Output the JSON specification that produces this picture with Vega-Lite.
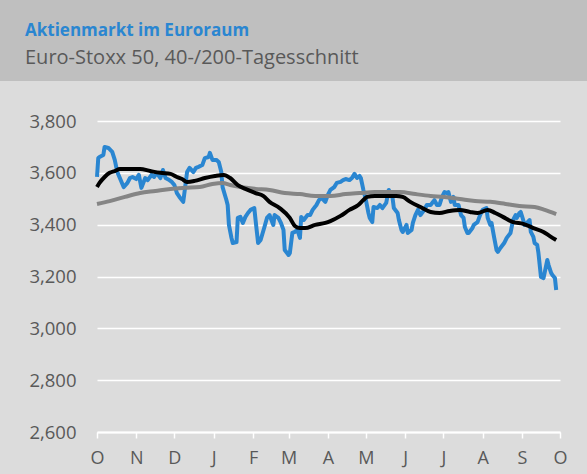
{
  "$schema": "https://vega.github.io/schema/vega-lite/v6.json",
  "background": "#dcdcdc",
  "padding": {"left": 0, "top": 0, "right": 0, "bottom": 7},
  "spacing": 31,
  "align": "none",
  "config": {
    "view": {"stroke": null},
    "font": "Open Sans"
  },
  "datasets": {
    "index": [
      {"date": "2017-10-01", "v": 3584}, {"date": "2017-10-02", "v": 3657}, {"date": "2017-10-03", "v": 3661}, {"date": "2017-10-06", "v": 3669},
      {"date": "2017-10-07", "v": 3700}, {"date": "2017-10-10", "v": 3696}, {"date": "2017-10-13", "v": 3681}, {"date": "2017-10-15", "v": 3650},
      {"date": "2017-10-17", "v": 3603}, {"date": "2017-10-19", "v": 3580}, {"date": "2017-10-22", "v": 3545}, {"date": "2017-10-25", "v": 3561},
      {"date": "2017-10-27", "v": 3580}, {"date": "2017-10-29", "v": 3584}, {"date": "2017-11-01", "v": 3576}, {"date": "2017-11-03", "v": 3592},
      {"date": "2017-11-05", "v": 3542}, {"date": "2017-11-08", "v": 3580}, {"date": "2017-11-10", "v": 3572}, {"date": "2017-11-13", "v": 3592},
      {"date": "2017-11-15", "v": 3584}, {"date": "2017-11-17", "v": 3600}, {"date": "2017-11-20", "v": 3580}, {"date": "2017-11-22", "v": 3611},
      {"date": "2017-11-24", "v": 3580}, {"date": "2017-11-27", "v": 3572}, {"date": "2017-11-29", "v": 3565}, {"date": "2017-12-01", "v": 3553},
      {"date": "2017-12-03", "v": 3522}, {"date": "2017-12-05", "v": 3507}, {"date": "2017-12-08", "v": 3488}, {"date": "2017-12-09", "v": 3526},
      {"date": "2017-12-11", "v": 3603}, {"date": "2017-12-13", "v": 3619}, {"date": "2017-12-16", "v": 3603}, {"date": "2017-12-18", "v": 3619},
      {"date": "2017-12-20", "v": 3623}, {"date": "2017-12-23", "v": 3630}, {"date": "2017-12-25", "v": 3657}, {"date": "2017-12-28", "v": 3661},
      {"date": "2017-12-29", "v": 3677}, {"date": "2017-12-31", "v": 3650}, {"date": "2018-01-03", "v": 3650}, {"date": "2018-01-05", "v": 3642},
      {"date": "2018-01-07", "v": 3603}, {"date": "2018-01-08", "v": 3545}, {"date": "2018-01-11", "v": 3495}, {"date": "2018-01-12", "v": 3476},
      {"date": "2018-01-13", "v": 3399}, {"date": "2018-01-15", "v": 3349}, {"date": "2018-01-16", "v": 3329}, {"date": "2018-01-19", "v": 3333},
      {"date": "2018-01-20", "v": 3426}, {"date": "2018-01-22", "v": 3430}, {"date": "2018-01-24", "v": 3407}, {"date": "2018-01-26", "v": 3430},
      {"date": "2018-01-28", "v": 3445}, {"date": "2018-01-30", "v": 3457}, {"date": "2018-02-02", "v": 3464}, {"date": "2018-02-03", "v": 3418},
      {"date": "2018-02-05", "v": 3329}, {"date": "2018-02-07", "v": 3341}, {"date": "2018-02-10", "v": 3391}, {"date": "2018-02-12", "v": 3426},
      {"date": "2018-02-14", "v": 3437}, {"date": "2018-02-17", "v": 3399}, {"date": "2018-02-18", "v": 3437}, {"date": "2018-02-21", "v": 3426},
      {"date": "2018-02-23", "v": 3407}, {"date": "2018-02-25", "v": 3380}, {"date": "2018-02-26", "v": 3302}, {"date": "2018-03-01", "v": 3283},
      {"date": "2018-03-02", "v": 3290}, {"date": "2018-03-04", "v": 3368}, {"date": "2018-03-06", "v": 3372}, {"date": "2018-03-08", "v": 3380},
      {"date": "2018-03-10", "v": 3349}, {"date": "2018-03-11", "v": 3430}, {"date": "2018-03-13", "v": 3418}, {"date": "2018-03-16", "v": 3437},
      {"date": "2018-03-18", "v": 3437}, {"date": "2018-03-20", "v": 3457}, {"date": "2018-03-23", "v": 3476}, {"date": "2018-03-25", "v": 3495},
      {"date": "2018-03-27", "v": 3503}, {"date": "2018-03-30", "v": 3488}, {"date": "2018-04-01", "v": 3515}, {"date": "2018-04-03", "v": 3534},
      {"date": "2018-04-06", "v": 3545}, {"date": "2018-04-08", "v": 3561}, {"date": "2018-04-11", "v": 3565}, {"date": "2018-04-13", "v": 3572},
      {"date": "2018-04-15", "v": 3576}, {"date": "2018-04-18", "v": 3572}, {"date": "2018-04-20", "v": 3580}, {"date": "2018-04-22", "v": 3596},
      {"date": "2018-04-24", "v": 3580}, {"date": "2018-04-26", "v": 3588}, {"date": "2018-04-27", "v": 3580}, {"date": "2018-04-29", "v": 3534},
      {"date": "2018-05-01", "v": 3495}, {"date": "2018-05-03", "v": 3445}, {"date": "2018-05-04", "v": 3426}, {"date": "2018-05-06", "v": 3410},
      {"date": "2018-05-07", "v": 3468}, {"date": "2018-05-10", "v": 3464}, {"date": "2018-05-12", "v": 3476}, {"date": "2018-05-14", "v": 3464},
      {"date": "2018-05-17", "v": 3484}, {"date": "2018-05-19", "v": 3534}, {"date": "2018-05-22", "v": 3503}, {"date": "2018-05-23", "v": 3464},
      {"date": "2018-05-26", "v": 3445}, {"date": "2018-05-27", "v": 3418}, {"date": "2018-05-29", "v": 3380}, {"date": "2018-05-30", "v": 3372},
      {"date": "2018-06-02", "v": 3399}, {"date": "2018-06-03", "v": 3368}, {"date": "2018-06-06", "v": 3380}, {"date": "2018-06-07", "v": 3407},
      {"date": "2018-06-09", "v": 3437}, {"date": "2018-06-11", "v": 3457}, {"date": "2018-06-13", "v": 3437}, {"date": "2018-06-16", "v": 3457},
      {"date": "2018-06-18", "v": 3476}, {"date": "2018-06-21", "v": 3476}, {"date": "2018-06-23", "v": 3488}, {"date": "2018-06-24", "v": 3495},
      {"date": "2018-06-26", "v": 3476}, {"date": "2018-06-28", "v": 3476}, {"date": "2018-06-30", "v": 3507}, {"date": "2018-07-02", "v": 3526},
      {"date": "2018-07-04", "v": 3522}, {"date": "2018-07-05", "v": 3526}, {"date": "2018-07-07", "v": 3488}, {"date": "2018-07-09", "v": 3507},
      {"date": "2018-07-10", "v": 3476}, {"date": "2018-07-13", "v": 3476}, {"date": "2018-07-15", "v": 3437}, {"date": "2018-07-17", "v": 3426},
      {"date": "2018-07-18", "v": 3391}, {"date": "2018-07-20", "v": 3368}, {"date": "2018-07-21", "v": 3368}, {"date": "2018-07-24", "v": 3387},
      {"date": "2018-07-25", "v": 3399}, {"date": "2018-07-28", "v": 3410}, {"date": "2018-07-30", "v": 3437}, {"date": "2018-08-01", "v": 3457},
      {"date": "2018-08-04", "v": 3464}, {"date": "2018-08-05", "v": 3426}, {"date": "2018-08-07", "v": 3399}, {"date": "2018-08-08", "v": 3407},
      {"date": "2018-08-10", "v": 3353}, {"date": "2018-08-12", "v": 3302}, {"date": "2018-08-13", "v": 3295}, {"date": "2018-08-15", "v": 3310},
      {"date": "2018-08-18", "v": 3329}, {"date": "2018-08-20", "v": 3349}, {"date": "2018-08-23", "v": 3368}, {"date": "2018-08-25", "v": 3418},
      {"date": "2018-08-27", "v": 3437}, {"date": "2018-08-28", "v": 3426}, {"date": "2018-08-30", "v": 3445}, {"date": "2018-08-31", "v": 3449},
      {"date": "2018-09-02", "v": 3418}, {"date": "2018-09-03", "v": 3399}, {"date": "2018-09-05", "v": 3407}, {"date": "2018-09-07", "v": 3418},
      {"date": "2018-09-08", "v": 3372}, {"date": "2018-09-10", "v": 3353}, {"date": "2018-09-11", "v": 3329}, {"date": "2018-09-13", "v": 3322},
      {"date": "2018-09-14", "v": 3291}, {"date": "2018-09-16", "v": 3198}, {"date": "2018-09-18", "v": 3194}, {"date": "2018-09-19", "v": 3217},
      {"date": "2018-09-21", "v": 3264}, {"date": "2018-09-22", "v": 3244}, {"date": "2018-09-24", "v": 3214}, {"date": "2018-09-25", "v": 3206},
      {"date": "2018-09-27", "v": 3194}, {"date": "2018-09-28", "v": 3148}
    ],
    "ma40": [
      {"date": "2017-10-01", "v": 3545}, {"date": "2017-10-03", "v": 3561}, {"date": "2017-10-07", "v": 3584}, {"date": "2017-10-11", "v": 3600},
      {"date": "2017-10-15", "v": 3607}, {"date": "2017-10-19", "v": 3615}, {"date": "2017-10-27", "v": 3615}, {"date": "2017-11-04", "v": 3615},
      {"date": "2017-11-12", "v": 3607}, {"date": "2017-11-20", "v": 3600}, {"date": "2017-11-28", "v": 3596}, {"date": "2017-12-03", "v": 3584},
      {"date": "2017-12-07", "v": 3576}, {"date": "2017-12-11", "v": 3565}, {"date": "2017-12-17", "v": 3569}, {"date": "2017-12-25", "v": 3580},
      {"date": "2018-01-02", "v": 3588}, {"date": "2018-01-09", "v": 3592}, {"date": "2018-01-14", "v": 3580}, {"date": "2018-01-20", "v": 3553},
      {"date": "2018-01-26", "v": 3538}, {"date": "2018-02-03", "v": 3522}, {"date": "2018-02-09", "v": 3511}, {"date": "2018-02-14", "v": 3488},
      {"date": "2018-02-22", "v": 3464}, {"date": "2018-03-02", "v": 3426}, {"date": "2018-03-06", "v": 3395}, {"date": "2018-03-10", "v": 3387},
      {"date": "2018-03-14", "v": 3387}, {"date": "2018-03-22", "v": 3399}, {"date": "2018-03-30", "v": 3407}, {"date": "2018-04-03", "v": 3414},
      {"date": "2018-04-11", "v": 3434}, {"date": "2018-04-18", "v": 3457}, {"date": "2018-04-25", "v": 3476}, {"date": "2018-04-29", "v": 3495},
      {"date": "2018-05-02", "v": 3507}, {"date": "2018-05-08", "v": 3511}, {"date": "2018-05-16", "v": 3511}, {"date": "2018-05-25", "v": 3511},
      {"date": "2018-05-30", "v": 3507}, {"date": "2018-06-05", "v": 3488}, {"date": "2018-06-13", "v": 3468}, {"date": "2018-06-21", "v": 3449},
      {"date": "2018-06-28", "v": 3445}, {"date": "2018-07-06", "v": 3453}, {"date": "2018-07-14", "v": 3457}, {"date": "2018-07-22", "v": 3449},
      {"date": "2018-07-28", "v": 3445}, {"date": "2018-08-05", "v": 3457}, {"date": "2018-08-11", "v": 3445}, {"date": "2018-08-17", "v": 3430},
      {"date": "2018-08-25", "v": 3410}, {"date": "2018-09-02", "v": 3403}, {"date": "2018-09-10", "v": 3387}, {"date": "2018-09-18", "v": 3372},
      {"date": "2018-09-23", "v": 3356}, {"date": "2018-09-28", "v": 3341}
    ],
    "ma200": [
      {"date": "2017-10-01", "v": 3480}, {"date": "2017-10-11", "v": 3491}, {"date": "2017-10-23", "v": 3507}, {"date": "2017-11-04", "v": 3522},
      {"date": "2017-11-16", "v": 3530}, {"date": "2017-11-28", "v": 3538}, {"date": "2017-12-09", "v": 3542}, {"date": "2017-12-21", "v": 3545},
      {"date": "2017-12-31", "v": 3557}, {"date": "2018-01-08", "v": 3561}, {"date": "2018-01-14", "v": 3553}, {"date": "2018-01-22", "v": 3545},
      {"date": "2018-02-03", "v": 3538}, {"date": "2018-02-14", "v": 3534}, {"date": "2018-02-26", "v": 3522}, {"date": "2018-03-10", "v": 3518},
      {"date": "2018-03-22", "v": 3511}, {"date": "2018-04-03", "v": 3511}, {"date": "2018-04-15", "v": 3518}, {"date": "2018-04-26", "v": 3522},
      {"date": "2018-05-08", "v": 3526}, {"date": "2018-05-20", "v": 3526}, {"date": "2018-05-28", "v": 3526}, {"date": "2018-06-09", "v": 3518},
      {"date": "2018-06-21", "v": 3511}, {"date": "2018-07-02", "v": 3507}, {"date": "2018-07-14", "v": 3499}, {"date": "2018-07-26", "v": 3491},
      {"date": "2018-08-07", "v": 3488}, {"date": "2018-08-19", "v": 3480}, {"date": "2018-08-30", "v": 3472}, {"date": "2018-09-11", "v": 3468},
      {"date": "2018-09-19", "v": 3457}, {"date": "2018-09-28", "v": 3441}
    ]
  },
  "vconcat": [
    {
      "width": 587,
      "height": 81,
      "view": {"fill": "#bfbfbf", "stroke": null},
      "title": {
        "text": "Aktienmarkt im Euroraum",
        "subtitle": "Euro-Stoxx 50, 40-/200-Tagesschnitt",
        "anchor": "start",
        "frame": "group",
        "offset": -69,
        "dx": 25,
        "font": "Open Sans",
        "fontSize": 17,
        "fontWeight": "bold",
        "color": "#2a86d1",
        "subtitleFont": "Open Sans",
        "subtitleFontSize": 20,
        "subtitleColor": "#595959",
        "subtitlePadding": 8
      },
      "data": {"values": []},
      "mark": {"type": "text"},
      "encoding": {}
    },
    {
      "spacing": 0,
      "hconcat": [
        {
          "width": 28,
          "height": 311,
          "data": {"values": []},
          "mark": {"type": "text"},
          "encoding": {}
        },
        {
          "width": 463,
          "height": 311,
          "encoding": {
            "x": {
              "field": "date",
              "type": "temporal",
              "scale": {"type": "utc", "domain": [1506816000000, 1538352000000]},
              "axis": {
                "title": null,
                "tickCount": {"interval": "month", "step": 1},
                "labelExpr": "slice(utcFormat(datum.value, '%b'), 0, 1)",
                "labelFlush": false,
                "labelOverlap": false,
                "grid": false,
                "domainColor": "white",
                "domainWidth": 2,
                "tickColor": "white",
                "tickWidth": 1.5,
                "tickSize": 6,
                "labelColor": "#595959",
                "labelFontSize": 18,
                "labelPadding": 11,
                "labelFont": "Open Sans"
              }
            },
            "y": {
              "field": "v",
              "type": "quantitative",
              "scale": {"domain": [2600, 3800], "nice": false, "zero": false},
              "axis": {
                "title": null,
                "values": [2600, 2800, 3000, 3200, 3400, 3600, 3800],
                "format": ",d",
                "domain": false,
                "ticks": false,
                "gridColor": "white",
                "gridWidth": 1.5,
                "labelColor": "#595959",
                "labelFontSize": 18.5,
                "labelPadding": 21,
                "labelFont": "Open Sans"
              }
            }
          },
          "layer": [
            {"data": {"name": "index"}, "mark": {"type": "line", "color": "#2a86d1", "strokeWidth": 4, "strokeJoin": "round"}},
            {"data": {"name": "ma200"}, "mark": {"type": "line", "color": "#858585", "strokeWidth": 4, "strokeJoin": "round", "interpolate": "monotone"}},
            {"data": {"name": "ma40"}, "mark": {"type": "line", "color": "#000000", "strokeWidth": 4, "strokeJoin": "round", "interpolate": "monotone"}}
          ]
        }
      ]
    }
  ]
}
